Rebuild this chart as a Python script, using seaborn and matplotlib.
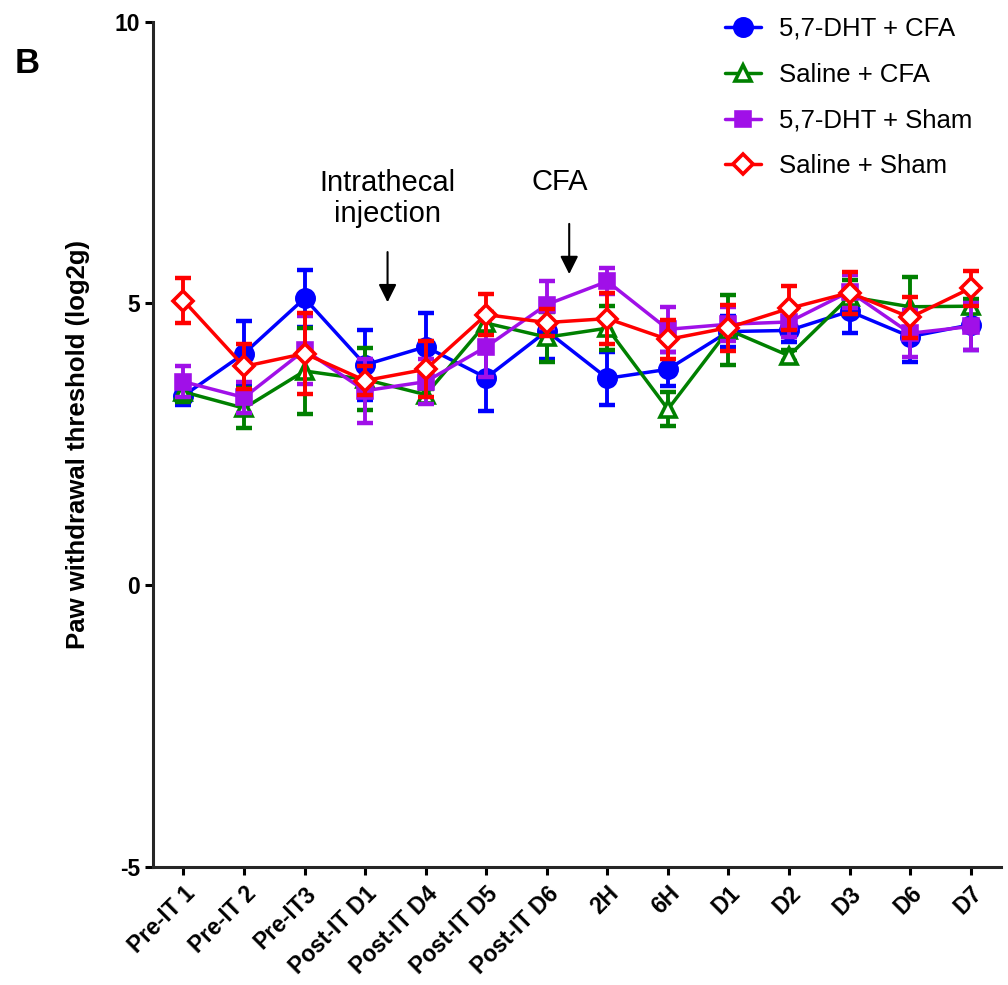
import numpy as np
import pandas as pd
import matplotlib
matplotlib.use("Agg")
import matplotlib.pyplot as plt
import matplotlib.transforms as mtransforms
import seaborn as sns

sns.set_style("ticks")
plt.rcParams['font.family'] = ['Liberation Sans', 'DejaVu Sans']
plt.rcParams['axes.unicode_minus'] = False
plt.rcParams['text.color'] = 'black'
plt.rcParams['axes.labelcolor'] = 'black'
plt.rcParams['xtick.color'] = 'black'
plt.rcParams['ytick.color'] = 'black'

# time points
timepoints = ['Pre-IT 1', 'Pre-IT 2', 'Pre-IT3', 'Post-IT D1', 'Post-IT D4', 'Post-IT D5',
              'Post-IT D6', '2H', '6H', 'D1', 'D2', 'D3', 'D6', 'D7']

# mean and SEM for each group (log2 g)
dht_cfa = [3.36, 4.11, 5.09, 3.91, 4.23, 3.68, 4.51, 3.67, 3.83, 4.50, 4.52, 4.86, 4.41, 4.62]
dht_cfa_sem = [0.17, 0.58, 0.51, 0.62, 0.60, 0.59, 0.49, 0.47, 0.30, 0.27, 0.20, 0.38, 0.45, 0.44]

saline_cfa = [3.43, 3.14, 3.80, 3.65, 3.38, 4.65, 4.40, 4.56, 3.12, 4.53, 4.07, 5.12, 4.94, 4.95]
saline_cfa_sem = [0.18, 0.36, 0.76, 0.55, 0.10, 0.20, 0.44, 0.39, 0.30, 0.62, 0.10, 0.30, 0.53, 0.12]

dht_sham = [3.61, 3.33, 4.17, 3.45, 3.61, 4.23, 4.98, 5.39, 4.54, 4.63, 4.67, 5.21, 4.47, 4.59]
dht_sham_sem = [0.27, 0.28, 0.60, 0.57, 0.40, 0.53, 0.41, 0.23, 0.40, 0.30, 0.27, 0.30, 0.42, 0.42]

saline_sham = [5.05, 3.88, 4.11, 3.63, 3.83, 4.80, 4.66, 4.73, 4.36, 4.57, 4.91, 5.19, 4.75, 5.27]
saline_sham_sem = [0.40, 0.40, 0.72, 0.25, 0.50, 0.36, 0.24, 0.45, 0.34, 0.41, 0.39, 0.37, 0.36, 0.31]

groups = [
    ('5,7-DHT + CFA', dht_cfa, dht_cfa_sem, '#0000FF', 'o', '#0000FF', 12.5),
    ('Saline + CFA', saline_cfa, saline_cfa_sem, '#008000', '^', 'white', 11),
    ('5,7-DHT + Sham', dht_sham, dht_sham_sem, '#A010E8', 's', '#A010E8', 10),
    ('Saline + Sham', saline_sham, saline_sham_sem, '#FF0000', 'D', 'white', 10.5),
]

fig = plt.figure(figsize=(10.08, 9.85), dpi=100)
ax = fig.add_axes([0.152, 0.12, 0.841, 0.858])

x = np.arange(len(timepoints))
for name, mean, sem, color, marker, face, ms in groups:
    df = pd.DataFrame({'x': x, 'y': mean})
    ax.errorbar(x, mean, yerr=sem, fmt='none', ecolor=color, elinewidth=2.8,
                capsize=6, capthick=3.2)
    sns.lineplot(data=df, x='x', y='y', ax=ax, color=color, linewidth=2.5,
                 marker=marker, markersize=ms, markerfacecolor=face,
                 markeredgecolor=color, markeredgewidth=2.6, label=name)

# annotations
ax.annotate('', xy=(3.37, 4.97), xytext=(3.37, 5.96),
            arrowprops=dict(arrowstyle='-|>', color='black', lw=1.5, mutation_scale=27))
ax.annotate('', xy=(6.37, 5.47), xytext=(6.37, 6.46),
            arrowprops=dict(arrowstyle='-|>', color='black', lw=1.5, mutation_scale=27))
ax.text(3.37, 6.34, 'Intrathecal\ninjection', ha='center', va='bottom', fontsize=21, linespacing=1.15)
ax.text(6.22, 7.01, 'CFA', ha='center', va='baseline', fontsize=21)

ax.set_xlim(-0.5, 13.5)
ax.set_ylim(-5, 10)
ax.set_yticks([-5, 0, 5, 10])
ax.set_xticks(x)
ax.set_xticklabels(timepoints, rotation=45, ha='right', rotation_mode='anchor',
                   fontsize=16.5, fontweight='bold')
shift = mtransforms.ScaledTranslation(-4 / 72, 0, fig.dpi_scale_trans)
for lab in ax.get_xticklabels():
    lab.set_transform(lab.get_transform() + shift)
for lab in ax.get_yticklabels():
    lab.set_fontsize(16.5)
    lab.set_fontweight('bold')
ax.set_xlabel('')
ax.set_ylabel('Paw withdrawal threshold (log2g)', fontsize=18.5, fontweight='bold', labelpad=18)

sns.despine(ax=ax)
for side in ['left', 'bottom']:
    ax.spines[side].set_linewidth(2.2)
ax.tick_params(axis='both', direction='out', length=6, width=2.2)
ax.tick_params(axis='x', pad=5)

ax.legend(loc='upper right', bbox_to_anchor=(0.994, 1.033), frameon=False, fontsize=18.5,
          handlelength=1.4, labelspacing=0.85, handletextpad=0.7)

fig.text(0.015, 0.926, 'B', fontsize=25, fontweight='bold')

fig.savefig('out.png', dpi=100)
